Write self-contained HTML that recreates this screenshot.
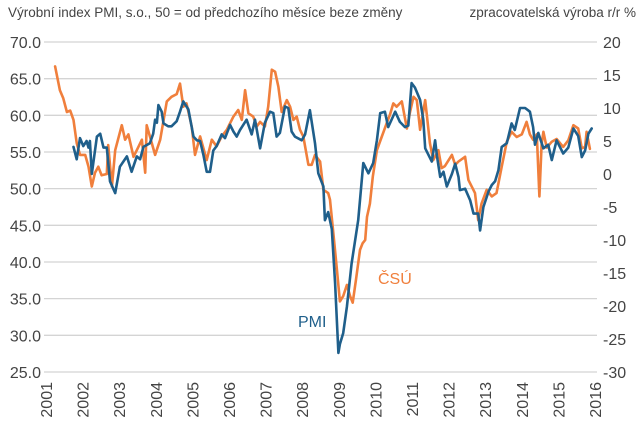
<!DOCTYPE html>
<html><head><meta charset="utf-8"><style>
html,body{margin:0;padding:0;background:#fff;}
svg{display:block;font-family:"Liberation Sans",Arial,sans-serif;}
</style></head><body>
<svg id="chart" width="640" height="426" viewBox="0 0 640 426">
<text x="8" y="17" font-size="13.5" fill="#444">Výrobní index PMI, s.o., 50 = od předchozího měsíce beze změny</text>
<text x="636" y="17" font-size="13.5" fill="#444" text-anchor="end">zpracovatelská výroba r/r %</text>
<g id="grid"></g><g id="ticks"></g><g id="series"></g>
<text x="298" y="327" font-size="16" fill="#1f5f8b">PMI</text>
<text x="378" y="284" font-size="16" fill="#f07f3c">ČSÚ</text>
</svg>
<script>
const leftTicks=[70,65,60,55,50,45,40,35,30,25];
const rightTicks=[20,15,10,5,0,-5,-10,-15,-20,-25,-30];
const years=[2001,2002,2003,2004,2005,2006,2007,2008,2009,2010,2011,2012,2013,2014,2015,2016];
const pmiT=[2001.75,2001.84,2001.93,2002.02,2002.11,2002.16,2002.2,2002.25,2002.39,2002.48,2002.57,2002.66,2002.75,2002.89,2003.02,2003.21,2003.34,2003.48,2003.57,2003.66,2003.84,2003.93,2003.98,2004.03,2004.07,2004.16,2004.21,2004.34,2004.43,2004.57,2004.66,2004.75,2004.84,2004.89,2005.03,2005.12,2005.21,2005.3,2005.39,2005.48,2005.57,2005.66,2005.8,2005.89,2006.03,2006.12,2006.21,2006.3,2006.48,2006.62,2006.71,2006.85,2006.98,2007.12,2007.21,2007.3,2007.39,2007.53,2007.62,2007.71,2007.8,2007.99,2008.08,2008.21,2008.35,2008.44,2008.58,2008.62,2008.71,2008.81,2008.9,2008.99,2009.03,2009.12,2009.22,2009.35,2009.53,2009.67,2009.81,2009.94,2010.04,2010.13,2010.26,2010.35,2010.45,2010.54,2010.67,2010.81,2010.9,2010.99,2011.08,2011.22,2011.31,2011.36,2011.45,2011.54,2011.63,2011.68,2011.77,2011.86,2011.95,2012.09,2012.18,2012.27,2012.31,2012.45,2012.59,2012.68,2012.81,2012.86,2012.95,2013.09,2013.18,2013.27,2013.36,2013.45,2013.59,2013.72,2013.81,2013.95,2014.09,2014.22,2014.31,2014.36,2014.45,2014.59,2014.72,2014.82,2014.95,2015.13,2015.27,2015.41,2015.54,2015.64,2015.73,2015.82,2015.91];
const pmiV=[55.7,54,56.9,55.8,56.5,55.6,56.5,52,57.1,57.5,55.6,55.6,51,49.4,53,54.4,52.3,54.4,54,55.7,56.2,57.5,59.4,59,61.4,60.5,58.9,58.5,58.5,59.2,60.5,61.9,61.2,60.8,57.1,56.6,56.5,54.6,52.3,52.3,55.2,55.8,57.4,56.9,58.7,57.8,57.1,58,59.4,57.4,59.4,55.5,59,60.5,60.3,57.1,57.6,61.2,61,57.8,57.1,56.6,57.4,60.7,56.2,52.1,50.3,45.7,46.8,44.5,37.1,27.6,28.8,30.3,33.9,39.8,45.7,53.5,52.1,53.5,56.6,60.3,60.5,58.4,59.5,60.5,59.1,58.4,58.6,64.4,63.8,62.1,59.4,55.5,54.6,53.7,56.6,54.5,51.6,52.3,50.3,52,53.4,51.6,49.8,50,48.4,46.6,46.6,44.3,47.5,49.6,50.5,51,52.5,55.7,56.2,58.9,58,61,61,60.5,58.4,56,57.6,55.5,56,53.9,56.6,54.8,55.6,58.2,57.2,54.3,55.2,57.5,58.2];
const csuT=[2001.25,2001.38,2001.47,2001.57,2001.66,2001.75,2001.84,2001.93,2002.07,2002.16,2002.25,2002.34,2002.43,2002.52,2002.66,2002.7,2002.8,2002.89,2003.07,2003.16,2003.25,2003.39,2003.48,2003.62,2003.71,2003.75,2003.84,2003.98,2004.12,2004.3,2004.43,2004.57,2004.66,2004.75,2004.84,2004.98,2005.07,2005.21,2005.39,2005.53,2005.66,2005.8,2005.94,2006.12,2006.25,2006.35,2006.44,2006.53,2006.66,2006.76,2006.85,2006.98,2007.07,2007.17,2007.26,2007.35,2007.44,2007.58,2007.67,2007.76,2007.85,2007.94,2008.03,2008.17,2008.26,2008.35,2008.49,2008.58,2008.71,2008.76,2008.85,2008.94,2009.03,2009.12,2009.22,2009.31,2009.38,2009.47,2009.58,2009.65,2009.72,2009.77,2009.85,2009.93,2010.04,2010.13,2010.31,2010.4,2010.49,2010.58,2010.72,2010.86,2010.95,2011.04,2011.13,2011.22,2011.36,2011.49,2011.58,2011.72,2011.81,2011.9,2012.09,2012.18,2012.27,2012.45,2012.54,2012.72,2012.81,2012.9,2013.04,2013.18,2013.31,2013.45,2013.59,2013.72,2013.86,2014,2014.13,2014.22,2014.31,2014.41,2014.48,2014.54,2014.59,2014.68,2014.82,2014.95,2015.13,2015.27,2015.41,2015.54,2015.64,2015.73,2015.77,2015.86];
const csuV=[16.3,12.7,11.5,9.4,9.6,8.2,4.7,2.9,2.9,1.1,-1.9,0.2,1.1,-0.2,0,4.4,-1.9,3.6,7.4,5.2,6,2.6,3.6,5.2,0.2,7.4,5.7,2.9,5.2,11,11.7,12.1,13.7,10.2,10.7,7.2,2.9,5.7,2.1,5.2,4.2,5.7,6.7,8.7,9.7,8.2,12.7,9.2,8.7,7.2,7.9,7.2,10.2,15.8,15.5,13.2,9.4,11.2,10.2,8.2,8.7,6.7,5.7,1.4,1.4,2.9,1.9,-2.4,-2.9,-3.9,-8.9,-14,-19.3,-18.5,-16.8,-18.5,-19.5,-16,-11.5,-10.5,-10,-6.5,-4.5,-0.4,3.6,5,7.7,9,10.7,10.2,11,6.9,9.5,11.7,11.2,6.7,11.2,4.7,2.1,3.6,0.9,1.2,2.9,1.4,1.9,2.6,-0.9,-2.9,-7,-4.5,-2.4,-3.4,-2.9,1.1,4.9,6.4,5.6,6,7.9,6,5.2,6,-3.4,4.5,6.4,4,4.9,5.3,4.1,5.1,7.4,6.9,3.9,4.1,6.4,3.8];

const NS='http://www.w3.org/2000/svg';
const X0=46,PX_YEAR=36.6,TOP=42,LEFT_MAX=70,LEFT_SCALE=7.333,RIGHT_MAX=20,RIGHT_SCALE=6.6;
function xAt(t){return X0+(t-2001)*PX_YEAR;}
function yLeft(v){return TOP+(LEFT_MAX-v)*LEFT_SCALE;}
function yRight(r){return TOP+(RIGHT_MAX-r)*RIGHT_SCALE;}
function mk(tag,attrs,parent,text){const e=document.createElementNS(NS,tag);for(const k in attrs)e.setAttribute(k,attrs[k]);if(text!==undefined)e.textContent=text;parent.appendChild(e);return e;}
const grid=document.getElementById('grid'),ticks=document.getElementById('ticks'),series=document.getElementById('series');
leftTicks.forEach(v=>{
  const y=yLeft(v);
  const g=mk('line',{x1:44,x2:597,y1:y,y2:y,stroke:'#d4d4d4','stroke-width':1.3},grid);
  
  
  const t=mk('text',{x:41,y:y+6,'font-size':16,fill:'#444','text-anchor':'end'},ticks,v.toFixed(1));
  
  
});
rightTicks.forEach(r=>{
  const y=yRight(r);
  const t=mk('text',{x:603,y:y+6,'font-size':16,fill:'#444'},ticks,String(r));
  
  
});
years.forEach(yr=>{
  const x=xAt(yr);
  const t=mk('text',{x:0,y:0,'font-size':16,fill:'#444','text-anchor':'end',transform:'translate('+(x+6)+',382) rotate(-90)'},ticks,String(yr));
  
  
});
function line(ts,vs,yf,color,name){
  const d=ts.map((t,i)=>(i?'L':'M')+xAt(t).toFixed(1)+','+yf(vs[i]).toFixed(1)).join('');
  const p=mk('path',{d:d,fill:'none',stroke:color,'stroke-width':2.6,'stroke-linejoin':'round','stroke-linecap':'round'},series);
  
  
}
line(csuT,csuV,yRight,'#f07f3c','csu-line');
line(pmiT,pmiV,yLeft,'#1f5f8b','pmi-line');
</script>
</body></html>
